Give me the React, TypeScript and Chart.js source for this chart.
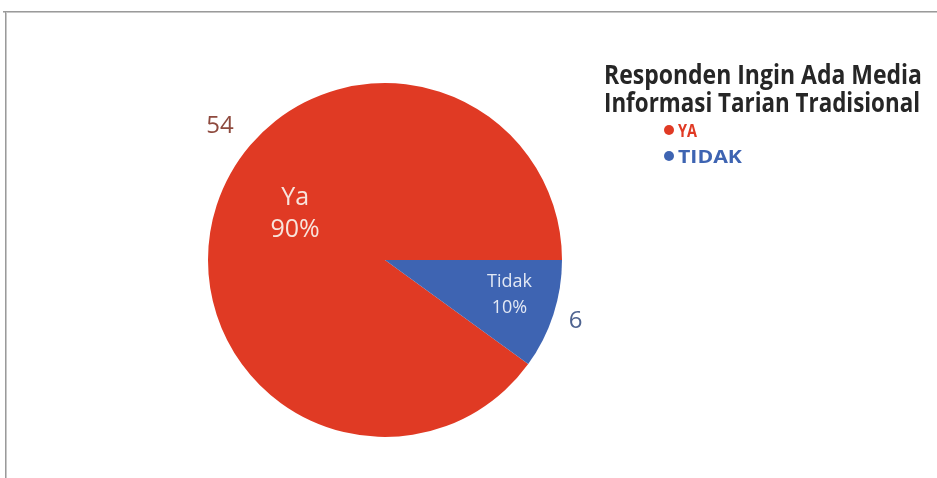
import React, { useEffect, useRef } from "react";
import { Chart, registerables } from "chart.js";

Chart.register(...registerables);

const categories = ["Ya", "Tidak"];
const legendLabels = ["YA", "TIDAK"];
const counts = [54, 6];
const percentLabels = ["90%", "10%"];
const titleLines = ["Responden Ingin Ada Media", "Informasi Tarian Tradisional"];

const COLORS = ["#E03A24", "#3E64B2"];
const INNER_TEXT = ["#F8E4DC", "#E2E8F4"];
const OUTER_TEXT = ["#8E4A3E", "#4E6390"];

const W = 937;
const H = 478;

const decorPlugin = {
  id: "decor",
  beforeDraw(chart: any) {
    const ctx = chart.ctx;
    ctx.save();
    ctx.fillStyle = "#ffffff";
    ctx.fillRect(0, 0, W, H);
    ctx.strokeStyle = "#c8c8c8";
    ctx.lineWidth = 1;
    ctx.beginPath();
    ctx.moveTo(3, 12.5);
    ctx.lineTo(W, 12.5);
    ctx.moveTo(6.5, 12);
    ctx.lineTo(6.5, H);
    ctx.stroke();
    ctx.strokeStyle = "#9a9a9a";
    ctx.beginPath();
    ctx.moveTo(3, 11.5);
    ctx.lineTo(W, 11.5);
    ctx.moveTo(5.5, 11);
    ctx.lineTo(5.5, H);
    ctx.stroke();
    ctx.restore();
  },
  afterDraw(chart: any) {
    const ctx = chart.ctx;
    const meta = chart.getDatasetMeta(0);
    const fit = (text: string, x: number, y: number, targetW: number) => {
      const m = ctx.measureText(text).width;
      ctx.save();
      ctx.translate(x, y);
      ctx.scale(targetW / m, 1);
      ctx.fillText(text, 0, 0);
      ctx.restore();
    };
    ctx.save();
    // Title
    ctx.fillStyle = "#262626";
    ctx.textBaseline = "alphabetic";
    ctx.textAlign = "left";
    ctx.font = "bold 26px 'Open Sans'";
    fit(titleLines[0], 604, 84, 318);
    fit(titleLines[1], 604, 112, 316);
    // Legend
    ctx.font = "bold 17px 'Open Sans'";
    const legendY = [137, 163];
    const legendW = [19, 64];
    legendLabels.forEach((lab, i) => {
      ctx.fillStyle = COLORS[i];
      ctx.beginPath();
      ctx.arc(669, legendY[i] - 7, 5, 0, Math.PI * 2);
      ctx.fill();
      fit(lab, 678, legendY[i], legendW[i]);
    });

    // Pie labels
    const innerAngle = [207, 15.5];
    const innerFrac = [0.57, 0.73];
    const innerSize = [25, 18];
    const innerGap = [32, 26];
    const outerAngle = [219, 17.7];
    const outerFrac = [1.2, 1.13];
    ctx.textAlign = "center";
    ctx.textBaseline = "middle";
    meta.data.forEach((arc: any, i: number) => {
      const p = arc.getProps(["x", "y", "outerRadius"], true);
      const a = (innerAngle[i] * Math.PI) / 180;
      const cx = p.x + Math.cos(a) * p.outerRadius * innerFrac[i];
      const cy = p.y + Math.sin(a) * p.outerRadius * innerFrac[i];
      ctx.fillStyle = INNER_TEXT[i];
      ctx.font = `${innerSize[i]}px 'Open Sans'`;
      ctx.fillText(categories[i], cx, cy - innerGap[i] / 2);
      ctx.fillText(percentLabels[i], cx, cy + innerGap[i] / 2);
      const b = (outerAngle[i] * Math.PI) / 180;
      const ox = p.x + Math.cos(b) * p.outerRadius * outerFrac[i];
      const oy = p.y + Math.sin(b) * p.outerRadius * outerFrac[i];
      ctx.fillStyle = OUTER_TEXT[i];
      ctx.font = "24px 'Open Sans'";
      ctx.fillText(String(counts[i]), ox, oy);
    });
    ctx.restore();
  },
};

export default function App() {
  const ref = useRef<HTMLCanvasElement | null>(null);
  useEffect(() => {
    if (!ref.current) return;
    const chart = new Chart(ref.current, {
      type: "pie",
      data: {
        labels: categories,
        datasets: [
          {
            data: counts,
            backgroundColor: COLORS,
            borderWidth: 0,
          },
        ],
      },
      options: {
        responsive: false,
        animation: false,
        rotation: 126,
        layout: { padding: { top: 83, bottom: 41, left: 208, right: 375 } },
        plugins: {
          legend: { display: false },
          tooltip: { enabled: false },
          title: { display: false },
        },
      },
      plugins: [decorPlugin],
    });
    return () => chart.destroy();
  }, []);
  return (
    <div style={{ position: "absolute", left: 0, top: 0, width: W, height: H, background: "#fff" }}>
      <canvas ref={ref} width={W} height={H} style={{ width: W, height: H, display: "block" }} />
    </div>
  );
}
